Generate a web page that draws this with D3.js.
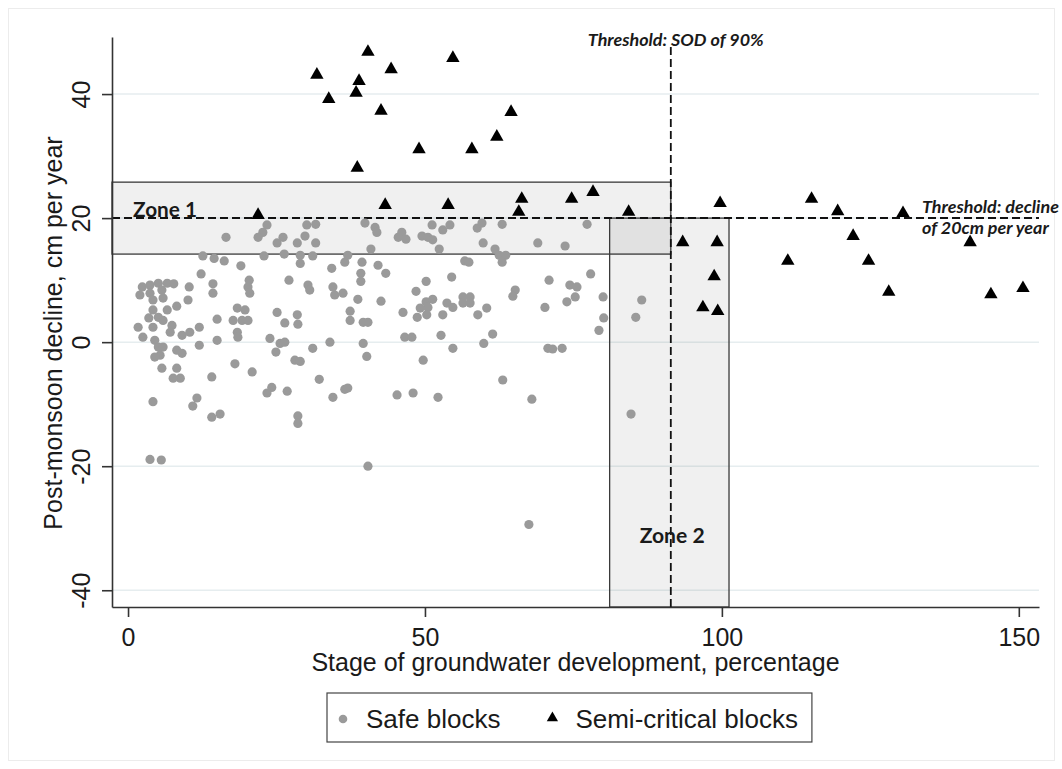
<!DOCTYPE html>
<html>
<head>
<meta charset="utf-8">
<script src="https://cdn.jsdelivr.net/npm/d3@7"></script>
<style>
  body { margin: 0; background: #fff; }
  svg text { font-family: "Liberation Sans", Arial, sans-serif; fill: #1a1a1a; }
  .note { font-family: Lato, "Open Sans", sans-serif; font-weight: bold; }
</style>
</head>
<body>
<svg id="chart" width="1062" height="769"></svg>
<script>
// safe blocks: [stage of development %, post-monsoon decline cm/yr]
const safeBlocks = [
  [16.5,16.9],[23.4,18.9],[22.7,17.7],[21.9,16.9],[26.1,16.9],[25.1,16.0],[28.5,16.0],
  [12.6,13.9],[14.5,13.5],[16.2,13.1],[22.9,13.9],[26.3,14.2],[19.0,12.3],[12.3,11.0],
  [27.1,10.0],[20.4,10.0],[20.2,8.9],[20.5,7.9],[14.3,9.4],[14.3,7.9],
  [2.4,8.9],[3.7,9.2],[5.1,9.5],[6.6,9.5],[7.7,9.4],[2.0,7.6],[3.7,7.9],[5.7,8.4],[5.9,7.1],[4.2,6.8],
  [10.3,8.9],[10.1,6.8],[8.2,5.8],[4.2,5.2],[6.6,5.2],[5.1,4.0],[3.5,3.9],[4.2,2.4],[1.7,2.4],[2.5,0.8],
  [5.9,3.5],[7.4,2.7],[7.1,1.6],[9.1,1.1],[10.4,1.6],[12.0,2.4],[12.0,-0.5],[15.0,3.7],[15.0,0.3],
  [18.4,5.5],[19.7,5.2],[17.7,3.5],[19.2,3.5],[20.2,3.5],[18.4,1.6],[18.5,0.8],
  [25.1,4.8],[28.5,4.4],[26.4,3.1],[23.9,0.6],[25.6,-0.2],[26.4,0.0],[24.9,-1.6],[28.1,-2.9],
  [4.5,0.3],[5.1,-0.8],[5.9,-0.8],[5.4,-2.1],[4.5,-2.4],[8.2,-1.3],[9.1,-1.8],
  [5.7,-4.2],[8.2,-4.2],[8.8,-5.8],[7.6,-5.8],[4.2,-9.6],[11.6,-9.0],
  [18.0,-3.5],[20.9,-4.8],[14.1,-5.6],[24.2,-7.3],[23.4,-8.2],[26.8,-7.9],
  [10.9,-10.3],[14.1,-12.1],[15.5,-11.6],[28.6,-11.9],[28.6,-13.1],[3.7,-18.9],[5.6,-19.0],[40.4,-20.0],
  [30.1,18.9],[31.6,19.0],[29.8,17.1],[31.6,16.0],[39.9,19.2],[41.6,18.5],[41.9,17.7],
  [46.1,17.7],[45.5,16.9],[46.8,16.6],[49.5,17.1],[50.5,16.9],[51.3,16.5],[51.2,18.9],
  [53.0,18.1],[54.2,18.9],[58.8,18.4],[52.4,15.0],[40.9,15.0],[29.0,14.0],[29.0,12.7],
  [31.1,13.9],[37.0,14.0],[36.5,12.9],[39.4,12.9],[34.3,11.9],[42.1,12.4],[43.4,11.1],
  [39.2,11.1],[39.2,9.8],[30.3,9.2],[30.6,8.4],[34.5,8.9],[34.8,7.6],[36.2,7.9],[38.7,6.9],
  [42.6,6.6],[50.2,9.8],[54.5,10.5],[48.5,8.2],[50.2,6.5],[51.3,6.9],[50.5,5.6],[49.2,5.5],
  [48.7,4.0],[50.3,4.4],[46.3,4.8],[53.0,4.4],[53.7,6.3],[54.7,5.6],[37.4,5.0],[37.4,3.5],
  [39.6,3.2],[40.4,3.2],[28.6,2.9],[34.0,0.0],[31.1,-1.0],[39.6,-0.2],[40.2,-2.3],
  [46.6,0.8],[47.8,0.8],[52.7,1.1],[54.7,-1.0],[49.7,-2.9],[29.0,-3.1],[32.2,-6.0],
  [36.5,-7.6],[37.0,-7.4],[34.5,-8.9],[45.3,-8.5],[48.0,-8.2],[52.2,-8.9],
  [59.6,19.2],[63.0,19.0],[77.3,19.0],[59.8,16.0],[69.0,16.0],[73.6,15.5],[61.8,15.0],
  [62.5,14.0],[63.6,14.0],[63.0,12.9],[56.7,13.1],[57.4,12.9],[77.9,11.0],[70.9,10.0],
  [74.4,9.2],[75.6,8.9],[75.3,7.3],[65.2,8.4],[64.8,7.4],[80.0,7.3],[86.5,6.8],
  [56.4,7.3],[57.6,7.3],[56.4,6.3],[57.6,6.3],[73.9,6.5],[70.2,5.6],[60.4,5.5],[58.9,4.4],
  [80.1,3.9],[85.5,4.0],[79.3,1.9],[61.4,1.3],[59.9,-0.2],[70.7,-1.0],[71.5,-1.1],[73.1,-1.0],
  [63.1,-6.1],[68.0,-9.2],[84.7,-11.6],[67.5,-29.4]
];

// semi-critical blocks
const semiCritical = [
  [40.4,46.8],[31.8,43.1],[44.3,44.0],[38.9,42.1],[33.8,39.2],[38.4,40.2],[42.6,37.3],
  [49.0,31.1],[38.6,28.1],[43.3,22.1],[21.9,20.5],
  [54.7,45.8],[64.5,37.1],[62.1,33.1],[57.9,31.1],[53.9,22.1],[66.3,23.1],[65.8,21.0],
  [74.7,23.1],[78.3,24.2],[84.3,21.0],[99.7,22.4],
  [115.1,23.1],[119.5,21.1],[130.5,20.8],[122.1,17.1],[141.8,16.1],[111.1,13.1],
  [124.7,13.1],[128.1,8.1],[145.3,7.7],[150.7,8.7],
  [93.4,16.1],[99.2,16.1],[98.7,10.6],[96.8,5.6],[99.3,5.0]
];

const xTicks = [0, 50, 100, 150];
const yTicks = [-40, -20, 0, 20, 40];
const xDomain = [-2.7, 153.4];
const yDomain = [-42.7, 49.2];

const declineThreshold = 20;
const sodThreshold = 91.4;
const zone1X = [-2.7, 91.4];
const zone1Y = [14.2, 25.8];
const zone2X = [81.1, 101.2];
const zone2Y = [-42.7, 20];

const svg = d3.select("#chart");

// faint outer frame
svg.append("rect")
  .attr("x", 8.5).attr("y", 8.5)
  .attr("width", 1046).attr("height", 752)
  .attr("fill", "none")
  .attr("stroke", "#ececec");

const x = d3.scaleLinear().domain(xDomain).range([112, 1039]);
const y = d3.scaleLinear().domain(yDomain).range([607, 37]);

// gridlines
svg.append("g")
  .selectAll("line")
  .data(yTicks)
  .enter().append("line")
    .attr("x1", x.range()[0]).attr("x2", x.range()[1])
    .attr("y1", d => y(d)).attr("y2", d => y(d))
    .attr("stroke", "#e6edef")
    .attr("stroke-width", 1.5);

// zones
const zones = [[zone1X, zone1Y], [zone2X, zone2Y]];
svg.append("g")
  .selectAll("rect")
  .data(zones)
  .enter().append("rect")
    .attr("x", d => x(d[0][0]))
    .attr("y", d => y(d[1][1]))
    .attr("width", d => x(d[0][1]) - x(d[0][0]))
    .attr("height", d => y(d[1][0]) - y(d[1][1]))
    .attr("fill", "#000")
    .attr("fill-opacity", 0.058)
    .attr("stroke", "#3a3a3a")
    .attr("stroke-width", 1.3);

// threshold lines
svg.append("line")
  .attr("x1", x.range()[0]).attr("x2", x.range()[1])
  .attr("y1", y(declineThreshold)).attr("y2", y(declineThreshold))
  .attr("stroke", "#111")
  .attr("stroke-width", 2)
  .attr("stroke-dasharray", "8,4");

svg.append("line")
  .attr("x1", x(sodThreshold)).attr("x2", x(sodThreshold))
  .attr("y1", 47).attr("y2", y.range()[0])
  .attr("stroke", "#111")
  .attr("stroke-width", 1.8)
  .attr("stroke-dasharray", "8,4");

// axes
const plain = d => String(d);

const xAxis = svg.append("g")
  .attr("transform", "translate(0," + y.range()[0] + ")")
  .call(d3.axisBottom(x).tickValues(xTicks).tickFormat(plain)
    .tickSize(10).tickSizeOuter(0).tickPadding(11));

const yAxis = svg.append("g")
  .attr("transform", "translate(" + x.range()[0] + ",0)")
  .call(d3.axisLeft(y).tickValues(yTicks).tickFormat(plain)
    .tickSize(10).tickSizeOuter(0));

[xAxis, yAxis].forEach(a => {
  a.select(".domain").attr("stroke", "#333").attr("stroke-width", 1.6);
  a.selectAll(".tick line").attr("stroke", "#333").attr("stroke-width", 1.6);
  a.selectAll(".tick text")
    .attr("fill", "#1a1a1a")
    .style("font-size", "25px")
    .style("font-family", '"Liberation Sans", Arial, sans-serif');
});

yAxis.selectAll(".tick text")
  .attr("x", 0)
  .attr("dy", 0)
  .attr("text-anchor", "middle")
  .attr("transform", "translate(-22,0) rotate(-90)");

// axis titles
svg.append("text")
  .attr("x", (x.range()[0] + x.range()[1]) / 2)
  .attr("y", 671)
  .attr("text-anchor", "middle")
  .style("font-size", "25px")
  .text("Stage of groundwater development, percentage");

svg.append("text")
  .attr("transform", "translate(62,333) rotate(-90)")
  .attr("text-anchor", "middle")
  .style("font-size", "25px")
  .text("Post-monsoon decline, cm per year");

// points
const triangle = d3.symbol().type(d3.symbolTriangle).size(78);

svg.append("g")
  .selectAll("circle")
  .data(safeBlocks)
  .enter().append("circle")
    .attr("cx", d => x(d[0]))
    .attr("cy", d => y(d[1]))
    .attr("r", 4.6)
    .attr("fill", "#9a9a9a");

svg.append("g")
  .selectAll("path")
  .data(semiCritical)
  .enter().append("path")
    .attr("d", triangle)
    .attr("transform", d => "translate(" + x(d[0]) + "," + y(d[1]) + ")")
    .attr("fill", "#000");

// annotations, font size fitted to the width they take in the picture
const fitText = (sel, width) => {
  const base = parseFloat(sel.style("font-size"));
  const len = sel.node().getComputedTextLength();
  sel.style("font-size", (base * width / len).toFixed(2) + "px");
};

const zone1Label = svg.append("text")
  .attr("class", "note")
  .attr("x", x(zone1X[0]) + 21)
  .attr("y", y(declineThreshold) - 1)
  .style("font-size", "19px")
  .text("Zone 1");
fitText(zone1Label, 64);

const zone2Label = svg.append("text")
  .attr("class", "note")
  .attr("x", x(zone2X[0]) + 30)
  .attr("y", 543)
  .style("font-size", "19px")
  .text("Zone 2");
fitText(zone2Label, 65);

const sodLabel = svg.append("text")
  .attr("class", "note")
  .attr("x", x(sodThreshold) - 83)
  .attr("y", 46)
  .style("font-size", "16px")
  .style("font-style", "italic")
  .text("Threshold: SOD of 90%");
fitText(sodLabel, 176);

const declineNote = svg.append("text")
  .attr("class", "note")
  .style("font-size", "16px")
  .style("font-style", "italic");
declineNote.append("tspan")
  .attr("x", 922).attr("y", y(declineThreshold) - 5)
  .text("Threshold: decline");
declineNote.append("tspan")
  .attr("x", 922).attr("y", y(declineThreshold) + 16)
  .text("of 20cm per year");
{
  const len = declineNote.select("tspan").node().getComputedTextLength();
  declineNote.style("font-size", (16 * 137 / len).toFixed(2) + "px");
}

// legend
const legend = svg.append("g");
const legendLeft = 327, legendTop = 693, legendBottom = 742;
const legendMid = 719;

legend.append("circle")
  .attr("cx", legendLeft + 16).attr("cy", legendMid)
  .attr("r", 4.3)
  .attr("fill", "#9a9a9a");

const t1 = legend.append("text")
  .attr("x", legendLeft + 39).attr("y", 728)
  .style("font-size", "26px")
  .text("Safe blocks");

const t1End = legendLeft + 39 + t1.node().getComputedTextLength();

legend.append("path")
  .attr("d", d3.symbol().type(d3.symbolTriangle).size(55))
  .attr("transform", "translate(" + (t1End + 52) + "," + (legendMid - 1) + ")")
  .attr("fill", "#000");

const t2 = legend.append("text")
  .attr("x", t1End + 75).attr("y", 728)
  .style("font-size", "26px")
  .text("Semi-critical blocks");

const t2End = t1End + 75 + t2.node().getComputedTextLength();

legend.insert("rect", ":first-child")
  .attr("x", legendLeft).attr("y", legendTop)
  .attr("width", t2End + 14 - legendLeft)
  .attr("height", legendBottom - legendTop)
  .attr("fill", "#fff")
  .attr("stroke", "#444")
  .attr("stroke-width", 1.2);
</script>
</body>
</html>
